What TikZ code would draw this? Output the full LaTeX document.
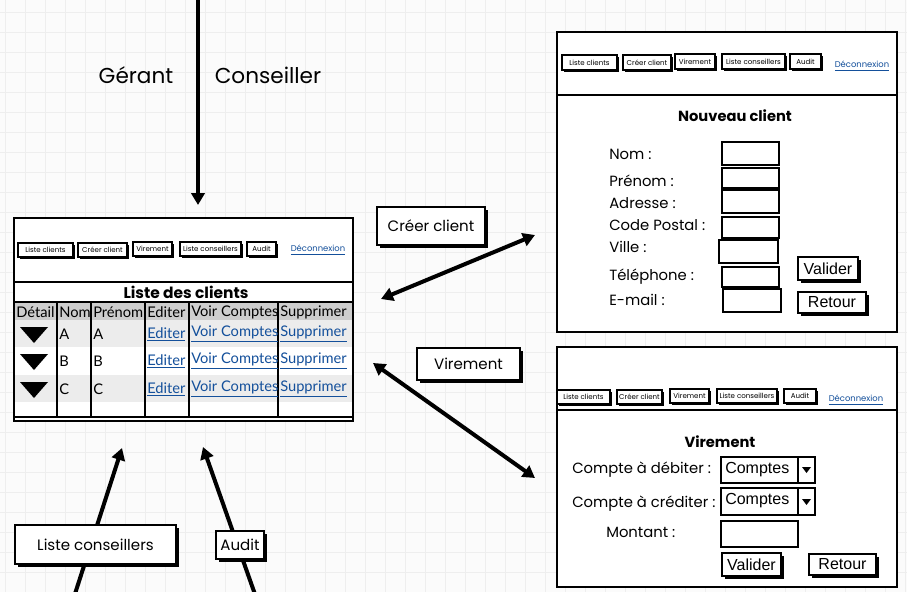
\documentclass[tikz,border=0pt]{standalone}
\usepackage{fontspec}
\setmainfont{Poppins}
\newfontfamily\arialf{Liberation Sans}
\newfontfamily\latof{Lato}
\usetikzlibrary{arrows.meta,shadows,fit}
\definecolor{linkblue}{RGB}{20,80,155}
\definecolor{gridc}{RGB}{238,238,238}
\definecolor{bgc}{RGB}{251,251,251}
\definecolor{hdrgray}{RGB}{205,205,205}
\definecolor{rowgray}{RGB}{236,236,236}
\newcommand\lnk[1]{\textcolor{linkblue}{\underline{#1}}}
\newcommand\fs[1]{\fontsize{#1}{#1}\selectfont}
\newcommand\tcell[5]{\begin{scope}\clip (#2,303) rectangle (#3,418);\node[cell] (#1) at (#2+2,#4) {#5};\end{scope}}
\newcommand\boxt[6]{\node[#1, fit={#3#4}] (#2) {};\node[#5] (#2t) at (#2.center) {#6};}
\tikzset{
  x=0.75pt, y=-0.75pt,
  win/.style={draw=black, line width=1.6pt, fill=white, inner sep=0pt},
  navbtn/.style={draw=black, line width=1.1pt, fill=white, inner sep=0pt,
    general shadow={shadow xshift=1.5pt, shadow yshift=-1.5pt, fill=black}},
  navtxt/.style={inner sep=0pt, font=\fs{5.3}},
  navlink/.style={inner sep=0pt, font=\fs{6.3}},
  lblbox/.style={draw=black, line width=1.5pt, fill=white, inner sep=0pt,
    general shadow={shadow xshift=2.2pt, shadow yshift=-2.2pt, fill=black}},
  lbltxt/.style={inner sep=0pt, font=\fs{11.3}},
  fbtn/.style={draw=black, line width=1.4pt, fill=white, inner sep=0pt,
    general shadow={shadow xshift=2pt, shadow yshift=-2pt, fill=black}},
  btntxt/.style={inner sep=0pt, font=\arialf\fs{12}},
  field/.style={draw=black, line width=1.4pt, fill=white, inner sep=0pt},
  flabel/.style={anchor=west, inner sep=0pt, font=\fs{11.1}},
  ddtxt/.style={anchor=west, inner sep=0pt, font=\arialf\fs{12}},
  ftitle/.style={inner sep=0pt, font=\bfseries\fs{11}},
  cell/.style={anchor=west, inner sep=0pt, font=\latof\fs{11}},
  bigtxt/.style={inner sep=0pt, font=\fs{16.2}},
  arr/.style={line width=3pt, -{Triangle[length=9pt,width=10pt]}},
  darr/.style={line width=3pt, {Triangle[length=9pt,width=10pt]}-{Triangle[length=9pt,width=10pt]}},
}
\begin{document}
\begin{tikzpicture}
\useasboundingbox (0,0) rectangle (907,592);
\fill[bgc] (0,0) rectangle (907,592);
\foreach \gx in {5,25,...,905} \draw[gridc, line width=0.7pt] (\gx,0) -- (\gx,592);
\foreach \gy in {12,32,...,592} \draw[gridc, line width=0.7pt] (0,\gy) -- (907,\gy);

% ---------- arrows ----------
\coordinate (tA) at (198,0);
\coordinate (tB) at (198,205);
\coordinate (cA) at (381,299);
\coordinate (cB) at (535,235);
\coordinate (vA) at (373,363);
\coordinate (vB) at (535,478);
\coordinate (lA) at (73,600);
\coordinate (lB) at (122,448);
\coordinate (aA) at (257,600);
\coordinate (aB) at (203,447);
\draw[arr] (tA) -- (tB);
\draw[darr] (cA) -- (cB);
\draw[darr] (vA) -- (vB);
\draw[arr] (lA) -- (lB);
\draw[arr] (aA) -- (aB);

\node[bigtxt] (gerant) at (136,75) {Gérant};
\node[bigtxt] (conseiller) at (268,75) {Conseiller};

\boxt{lblbox}{lcreer}{(377,207)}{(485,245)}{lbltxt}{Créer client}
\boxt{lblbox}{lvir}{(417,348)}{(520,380)}{lbltxt}{Virement}
\boxt{lblbox}{lcons}{(15,525)}{(176,564)}{lbltxt}{Liste conseillers}
\boxt{lblbox}{laudit}{(216,531)}{(264,559)}{lbltxt}{Audit}

% ---------- main window ----------
\node[win, fit={(14,218)(353,421)}] (main) {};
\fill[hdrgray] (15,303) rectangle (352,320);
\fill[rowgray] (15,320) rectangle (352,347);
\fill[rowgray] (15,375) rectangle (352,402);
\draw[line width=1.6pt] (14,282) -- (353,282);
\draw[line width=1.6pt] (14,302) -- (353,302);
\draw[line width=1.6pt] (14,417) -- (353,417);
\foreach \cx in {57,91,145,189,278} \draw[line width=1.5pt] (\cx,303) -- (\cx,417);
\node[ftitle, font=\bfseries\fs{11.6}] (ltitle) at (186,292) {Liste des clients};
\boxt{navbtn}{m1}{(18,243)}{(73,257)}{navtxt}{Liste clients}
\boxt{navbtn}{m2}{(78,243)}{(127,257)}{navtxt}{Créer client}
\boxt{navbtn}{m3}{(133,242)}{(172,256)}{navtxt}{Virement}
\boxt{navbtn}{m4}{(180,242)}{(241,256)}{navtxt}{Liste conseillers}
\boxt{navbtn}{m5}{(247,242)}{(276,256)}{navtxt}{Audit}
\node[navlink] (m6) at (318,250) {\lnk{Déconnexion}};

\tcell{h1}{14}{57}{312}{Détail}
\tcell{h2}{57}{91}{312}{Nom}
\tcell{h3}{91}{145}{312}{Prénom}
\tcell{h4}{145}{189}{312}{Editer}
\tcell{h5}{189}{278}{312}{Voir Comptes}
\tcell{h6}{278}{352}{312}{Supprimer}
\foreach \ry/\rl in {334/A,361/B,389/C}{
  \fill (20,\ry-7) -- (48,\ry-7) -- (34,\ry+9) -- cycle;
  \tcell{n\rl}{57}{91}{\ry}{\rl}
  \tcell{p\rl}{91}{145}{\ry}{\rl}
  \tcell{e\rl}{145}{189}{\ry}{\lnk{Editer}}
  \tcell{v\rl}{189}{278}{\ry}{\lnk{Voir Comptes}}
  \tcell{s\rl}{278}{352}{\ry}{\lnk{Supprimer}}
}

% ---------- Nouveau client window ----------
\node[win, fit={(557,32)(897,332)}] (wnew) {};
\draw[line width=1.6pt] (557,95) -- (897,95);
\boxt{navbtn}{a1}{(562,55)}{(617,70)}{navtxt}{Liste clients}
\boxt{navbtn}{a2}{(623,55)}{(671,70)}{navtxt}{Créer client}
\boxt{navbtn}{a3}{(675,54)}{(715,69)}{navtxt}{Virement}
\boxt{navbtn}{a4}{(722,54)}{(785,69)}{navtxt}{Liste conseillers}
\boxt{navbtn}{a5}{(790,54)}{(821,69)}{navtxt}{Audit}
\node[navlink] (a6) at (862,66) {\lnk{Déconnexion}};
\node[ftitle] (ntitle) at (735,116) {Nouveau client};
\node[flabel] (lnom) at (609,154) {Nom :};
\node[flabel] (lpre) at (609,181) {Prénom :};
\node[flabel] (ladr) at (609,203) {Adresse :};
\node[flabel] (lcp) at (609,225) {Code Postal :};
\node[flabel] (lvil) at (609,247) {Ville :};
\node[flabel] (ltel) at (609,277) {Téléphone :};
\node[flabel] (lmail) at (609,300) {E-mail :};
\node[field, fit={(722,142)(779,165)}] (f1) {};
\node[field, fit={(722,168)(779,188)}] (f2) {};
\node[field, fit={(722,190)(779,213)}] (f3) {};
\node[field, fit={(722,217)(779,238)}] (f4) {};
\node[field, fit={(719,240)(778,263)}] (f5) {};
\node[field, fit={(722,267)(779,287)}] (f6) {};
\node[field, fit={(723,289)(781,312)}] (f7) {};
\boxt{fbtn}{bval1}{(798,257)}{(858,280)}{btntxt}{Valider}
\boxt{fbtn}{bret1}{(798,292)}{(866,313)}{btntxt}{Retour}

% ---------- Virement window ----------
\node[win, fit={(557,347)(897,587)}] (wvir) {};
\draw[line width=1.6pt] (557,410) -- (897,410);
\boxt{navbtn}{b1}{(557,390)}{(610,404)}{navtxt}{Liste clients}
\boxt{navbtn}{b2}{(617,390)}{(662,404)}{navtxt}{Créer client}
\boxt{navbtn}{b3}{(670,389)}{(709,403)}{navtxt}{Virement}
\boxt{navbtn}{b4}{(717,389)}{(777,403)}{navtxt}{Liste conseillers}
\boxt{navbtn}{b5}{(784,389)}{(816,403)}{navtxt}{Audit}
\node[navlink] (b6) at (856,400) {\lnk{Déconnexion}};
\node[ftitle] (vtitle) at (720,442) {Virement};
\node[flabel] (ldeb) at (572,470) {Compte à débiter :};
\node[flabel] (lcred) at (572,504) {Compte à créditer :};
\node[flabel] (lmont) at (606,532) {Montant :};
\node[field, fit={(721,457)(815,483)}] (dd1) {};
\draw[line width=1.4pt] (798,457) -- (798,483);
\fill (802,467) -- (811,467) -- (806.5,473) -- cycle;
\node[ddtxt] (dd1t) at (725,470) {Comptes};
\node[field, fit={(721,488)(815,515)}] (dd2) {};
\draw[line width=1.4pt] (798,488) -- (798,515);
\fill (802,499) -- (811,499) -- (806.5,505) -- cycle;
\node[ddtxt] (dd2t) at (725,501) {Comptes};
\node[field, fit={(721,521)(798,547)}] (fmont) {};
\boxt{fbtn}{bval2}{(722,553)}{(781,576)}{btntxt}{Valider}
\boxt{fbtn}{bret2}{(809,554)}{(876,575)}{btntxt}{Retour}
\end{tikzpicture}
\end{document}
